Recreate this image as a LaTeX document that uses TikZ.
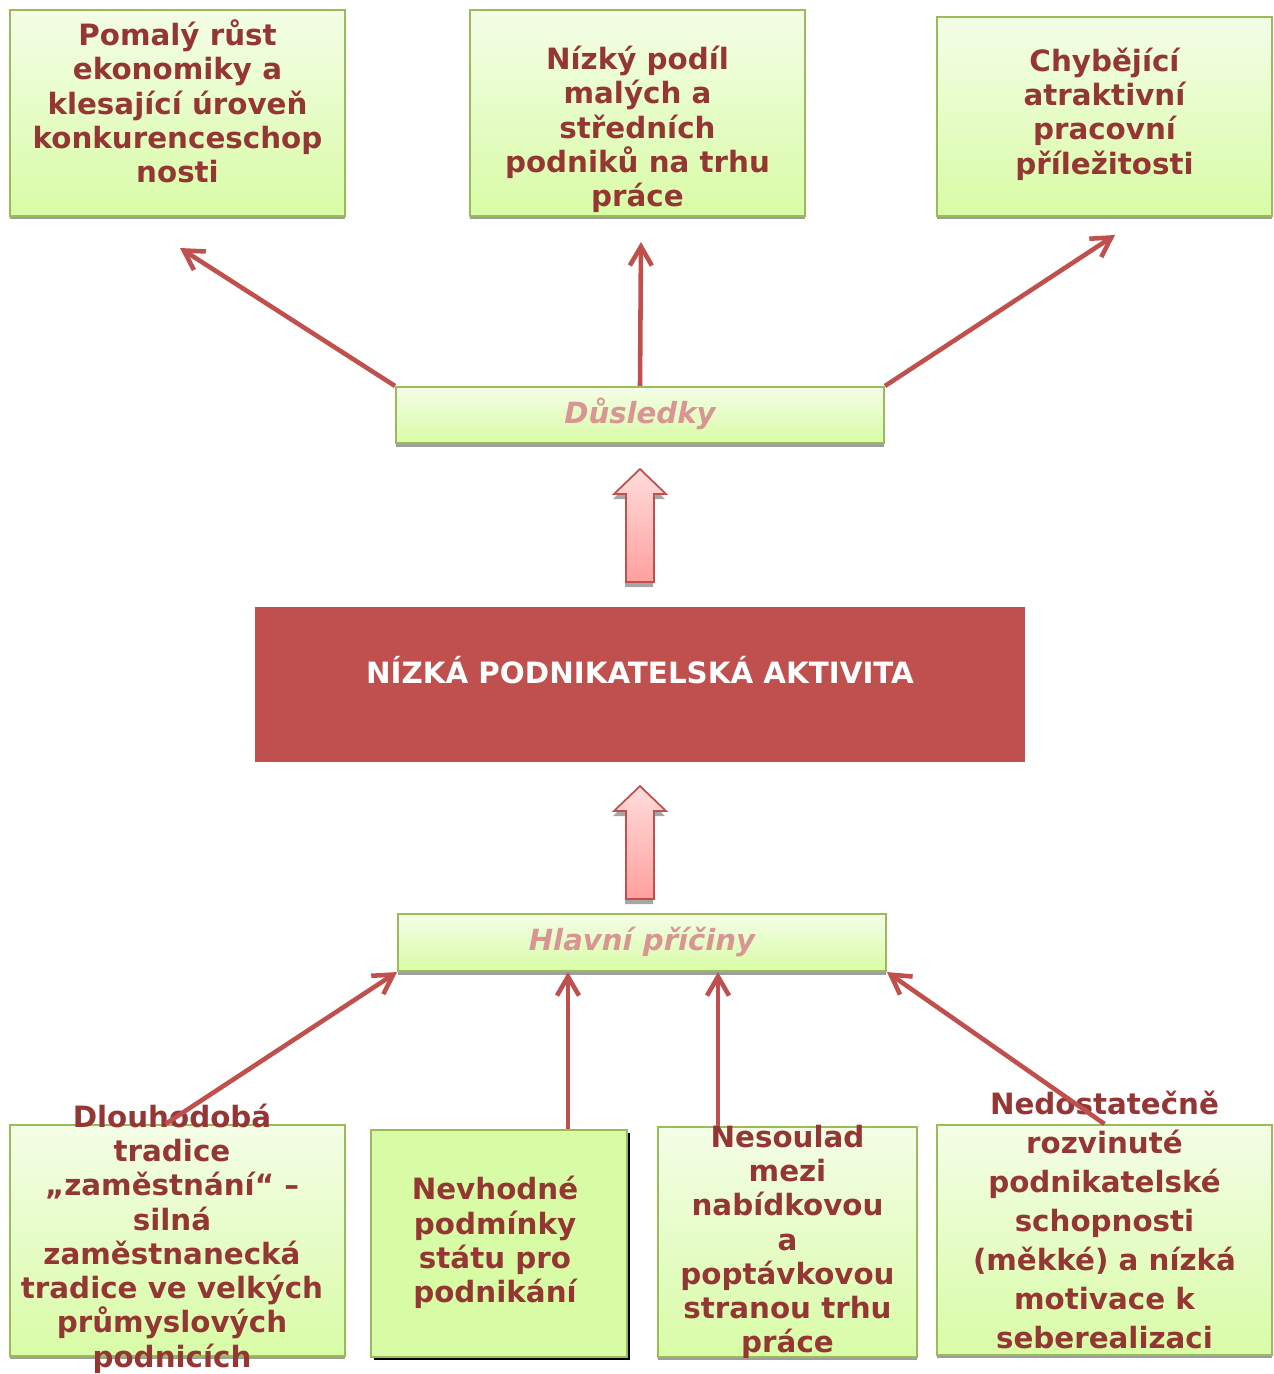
\documentclass[tikz,border=0pt]{standalone}
\usepackage{fontspec}
\setmainfont{DejaVu Sans}
\definecolor{BoxGreen}{RGB}{155,187,89}
\definecolor{BoxTop}{RGB}{244,253,231}
\definecolor{BoxBottom}{RGB}{216,252,166}
\definecolor{DarkRed}{RGB}{148,54,52}
\definecolor{AccentRed}{RGB}{192,80,77}
\definecolor{PaleRed}{RGB}{217,149,148}
\definecolor{ArrowTop}{RGB}{255,220,220}
\definecolor{ArrowBottom}{RGB}{255,160,157}
\usetikzlibrary{shapes,arrows,arrows.meta,positioning,shadows}

\tikzset{
  effbox/.style={draw=BoxGreen, line width=1.2pt, top color=BoxTop, bottom color=BoxBottom,
    inner sep=0pt, general shadow={fill=black!38, shadow yshift=-0.07cm}},
  flatbox/.style={draw=BoxGreen, line width=1.2pt, fill=BoxBottom, inner sep=0pt,
    general shadow={fill=black, shadow xshift=0.06cm, shadow yshift=-0.06cm}},
  boxtxt/.style={text=DarkRed, font=\bfseries\fontsize{16.7}{19.5}\selectfont, align=center, inner sep=0pt},
  headtxt/.style={text=PaleRed, font=\bfseries\itshape\fontsize{16.6}{19.5}\selectfont, inner sep=0pt},
  conn/.style={draw=AccentRed, line width=2.6pt, -{Straight Barb[length=0.38cm,width=0.44cm]}}
}

\begin{document}
\begin{tikzpicture}[x=0.02cm, y=-0.02cm]
    \useasboundingbox (0,0) rectangle (1274,1374);

    % Effects (top row)
    \node[effbox, minimum width=6.7cm, minimum height=4.12cm] (ec1) at (177.5,113) {};
    \node[effbox, minimum width=6.7cm, minimum height=4.12cm] (ec2) at (637.5,113) {};
    \node[effbox, minimum width=6.7cm, minimum height=3.98cm] (ec3) at (1104.5,116.5) {};
    \node[boxtxt] (ec1t) at (177.5,101.5) {Pomalý růst\\ekonomiky a\\klesající úroveň\\konkurenceschop\\nosti};
    \node[boxtxt] (ec2t) at (637.5,129.5) {Nízký podíl\\malých a\\středních\\podniků na trhu\\práce};
    \node[boxtxt] (ec3t) at (1104.5,114) {Chybějící\\atraktivní\\pracovní\\příležitosti};

    % Headers
    \node[effbox, minimum width=9.76cm, minimum height=1.12cm] (dus) at (640,415) {};
    \node[headtxt] (dust) at (640,414) {Důsledky};
    \node[effbox, minimum width=9.76cm, minimum height=1.14cm] (hlav) at (642,942.5) {};
    \node[headtxt] (hlavt) at (642,941.5) {Hlavní příčiny};

    % Core problem
    \node[fill=AccentRed, minimum width=15.4cm, minimum height=3.1cm] (core) at (640,684.5) {};
    \node[text=white, font=\bfseries\fontsize{16.7}{19.5}\selectfont, inner sep=0pt] (coret) at (640,670) {NÍZKÁ PODNIKATELSKÁ AKTIVITA};

    % Block arrows
    \foreach \ty in {469,786} {
        \fill[black!35, shift={(-1,5)}] (640,\ty) -- (666,\ty+25) -- (654,\ty+25) -- (654,\ty+113)
            -- (626,\ty+113) -- (626,\ty+25) -- (614,\ty+25) -- cycle;
        \draw[AccentRed, line width=1pt, top color=ArrowTop, bottom color=ArrowBottom]
            (640,\ty) -- (666,\ty+25) -- (654,\ty+25) -- (654,\ty+113)
            -- (626,\ty+113) -- (626,\ty+25) -- (614,\ty+25) -- cycle;
    }

    % Causes (bottom row)
    \node[effbox, minimum width=6.7cm, minimum height=4.62cm] (pc1) at (177.5,1240.5) {};
    \node[flatbox, minimum width=5.12cm, minimum height=4.54cm] (pc2) at (499,1243.5) {};
    \node[effbox, minimum width=5.18cm, minimum height=4.6cm] (pc3) at (787.5,1242) {};
    \node[effbox, minimum width=6.7cm, minimum height=4.6cm] (pc4) at (1104.5,1240) {};
    \node[boxtxt] (pc1t) at (172,1238.5) {Dlouhodobá\\tradice\\„zaměstnání“ –\\silná\\zaměstnanecká\\tradice ve velkých\\průmyslových\\podnicích};
    \node[boxtxt] (pc2t) at (495,1242.5) {Nevhodné\\podmínky\\státu pro\\podnikání};
    \node[boxtxt] (pc3t) at (787.5,1242) {Nesoulad\\mezi\\nabídkovou\\a\\poptávkovou\\stranou trhu\\práce};
    \node[boxtxt, font=\bfseries\fontsize{16.7}{22.2}\selectfont] (pc4t) at (1104.5,1219.5) {Nedostatečně\\rozvinuté\\podnikatelské\\schopnosti\\(měkké) a nízká\\motivace k\\seberealizaci};

    % Connectors
    \coordinate (e1) at (180,248);
    \coordinate (e2) at (641,242);
    \coordinate (e3) at (1115,235);
    \draw[conn] (dus.north west) -- (e1);
    \draw[conn] (dus.north) -- (e2);
    \draw[conn] (dus.north east) -- (e3);

    \draw[conn] ([xshift=-0.24cm]pc1.north) -- (hlav.south west);
    \draw[conn] ([xshift=1.38cm]pc2.north) -- ([xshift=1.38cm]pc2.north |- hlav.south);
    \draw[conn] ([xshift=-1.39cm]pc3.north) -- ([xshift=-1.39cm]pc3.north |- hlav.south);
    \draw[conn] (pc4.north) -- (hlav.south east);
\end{tikzpicture}
\end{document}
